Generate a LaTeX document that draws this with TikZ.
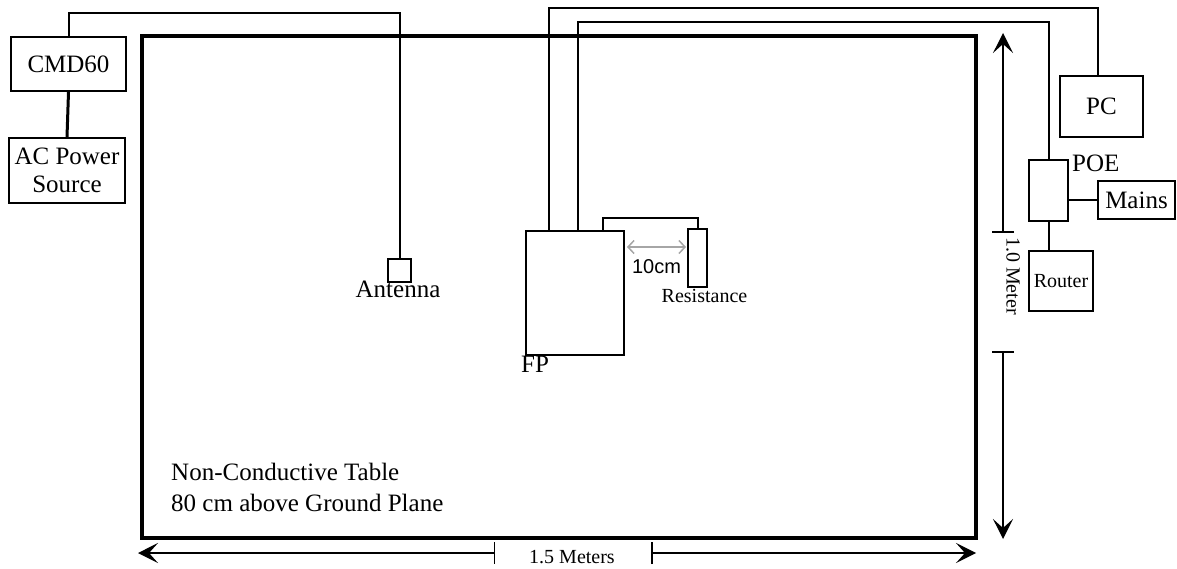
\documentclass[tikz,border=0pt]{standalone}
\usepackage{fontspec}
\setmainfont{Liberation Serif}
\newfontfamily\sansfont{Liberation Sans}
\usetikzlibrary{arrows.meta}
\begin{document}
\begin{tikzpicture}[x=1pt, y=-1pt,
  box/.style = {draw, line width=2pt, inner sep=0pt, font=\fontsize{25}{28}\selectfont},
  lbl/.style = {inner sep=0pt, font=\fontsize{25}{30.5}\selectfont},
  small/.style = {inner sep=0pt, font=\fontsize{20}{24}\selectfont},
  wire/.style = {line width=2pt},
  dim/.style = {line width=1.5pt, {Bar[width=22pt]}-{Stealth[length=20pt,width=20pt,inset=9pt]}}]
  \useasboundingbox (0,0) rectangle (1177,569);
  \node[draw, line width=3.2pt, minimum width=834pt, minimum height=502pt] (table) at (559,287) {};
  \node[lbl, anchor=north west, align=left] (tabletxt) at (171,463) {Non-Conductive Table\\80 cm above Ground Plane};
  \node[box, minimum width=115pt, minimum height=54pt] (cmd) at (68.5,64) {CMD60};
  \node[box, align=center, minimum width=116pt, minimum height=65pt] (ac) at (67,170.5) {AC Power\\Source};
  \node[box, minimum width=23pt, minimum height=23pt] (ant) at (399.5,270.5) {};
  \node[lbl, anchor=north] (antlbl) at (398,281) {Antenna};
  \node[box, minimum width=98pt, minimum height=124pt] (fp) at (575,293) {};
  \node[lbl, anchor=north west] (fplbl) at (521,356) {FP};
  \node[box, minimum width=19pt, minimum height=58pt] (res) at (697.5,258) {};
  \node[small, anchor=north] (reslbl) at (704.5,289) {Resistance};
  \node[small, font=\sansfont\fontsize{20}{24}\selectfont] (gap) at (656.5,267) {10cm};
  \node[box, minimum width=83pt, minimum height=61pt] (pc) at (1101.5,106.5) {PC};
  \node[box, minimum width=39pt, minimum height=61pt] (poe) at (1048.5,190.5) {};
  \node[lbl, anchor=north west] (poelbl) at (1072,155) {POE};
  \node[box, minimum width=77pt, minimum height=38pt] (mains) at (1136.5,200) {Mains};
  \node[box, font=\fontsize{20}{24}\selectfont, minimum width=64pt, minimum height=60pt] (router) at (1061,281) {Router};
  \draw[line width=3pt] (cmd.south) -- (ac.north);
  \draw[wire] (cmd.north) -- ++(0,-23) -| (ant.north);
  \draw[wire] ([xshift=-26pt]fp.north) -- ++(0,-221.5) -| ([xshift=-3.5pt]pc.north);
  \draw[wire] ([xshift=3pt]fp.north) -- ++(0,-207.5) -| (poe.north);
  \draw[wire] ([xshift=28pt]fp.north) -- ++(0,-12) -| (res.north);
  \draw[wire] (poe.east |- mains.west) -- (mains.west);
  \draw[wire] (poe.south) -- (poe.south |- router.north);
  \coordinate (g1) at (627,247);
  \coordinate (g2) at (686,247);
  \draw[gray!70, line width=1.5pt, {Straight Barb[length=6pt,width=13pt]}-{Straight Barb[length=6pt,width=13pt]}] (g1) -- (g2);
  \coordinate (vt) at (1003,33);
  \coordinate (vm1) at (1003,233);
  \coordinate (vm2) at (1003,351);
  \coordinate (vb) at (1003,539);
  \draw[dim] (vm1) -- (vt);
  \draw[dim] (vm2) -- (vb);
  \node[small, rotate=-90] (vlbl) at (1013,276) {1.0 Meter};
  \coordinate (hl) at (138,553);
  \coordinate (hm1) at (495,553);
  \coordinate (hm2) at (651,553);
  \coordinate (hr) at (976,553);
  \draw[dim] (hm1) -- (hl);
  \draw[dim] (hm2) -- (hr);
  \node[small] (hlbl) at (572,557) {1.5 Meters};
\end{tikzpicture}
\end{document}
